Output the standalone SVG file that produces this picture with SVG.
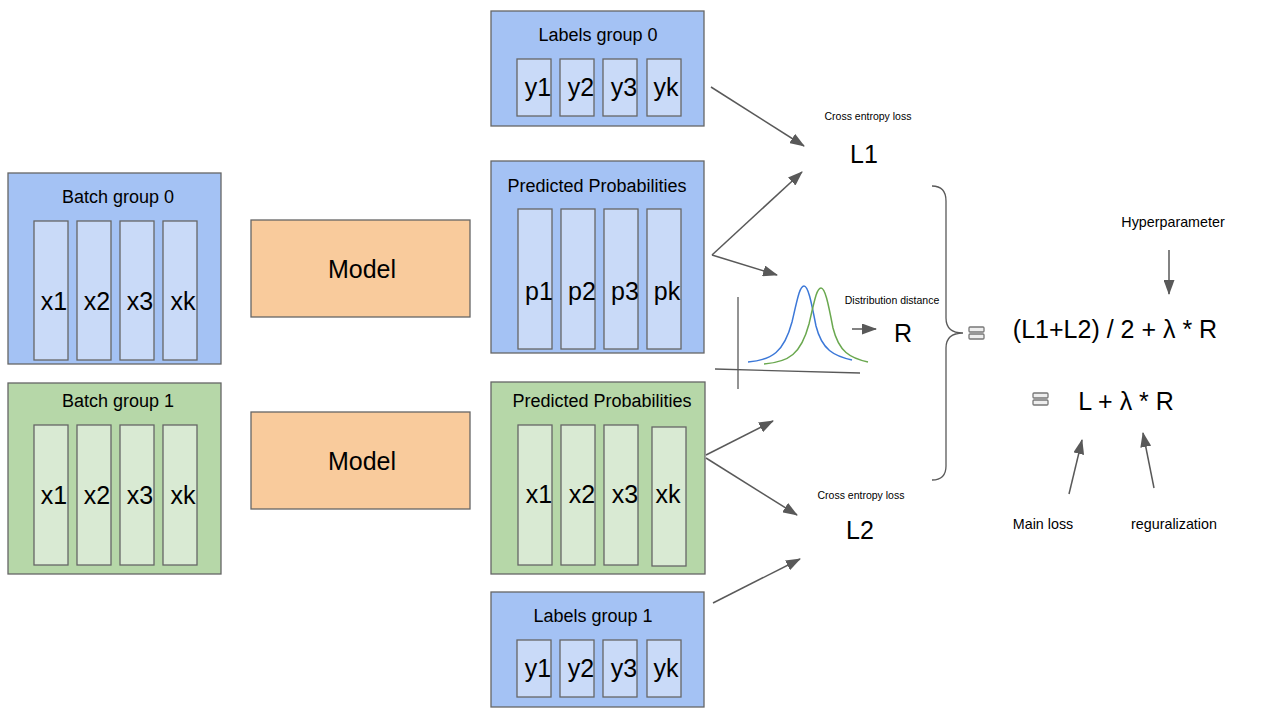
<svg xmlns="http://www.w3.org/2000/svg" width="1280" height="719" viewBox="0 0 1280 719">
<style>
text{font-family:"Liberation Sans",Arial,sans-serif;fill:#000;text-anchor:middle}
.blue{fill:#a4c2f4;stroke:#666;stroke-width:1.3}
.cb{fill:#c9daf8;stroke:#666;stroke-width:1.3}
.green{fill:#b6d7a8;stroke:#666;stroke-width:1.3}
.cg{fill:#d9ead3;stroke:#666;stroke-width:1.3}
.model{fill:#f9cb9c;stroke:#666;stroke-width:1.3}
.t{font-size:18px}
.c{font-size:25px}
.m{font-size:25px}
.s{font-size:10.5px}
.n{font-size:14.3px}
.big{font-size:25px}
.arr{stroke:#595959;stroke-width:1.5;fill:none;marker-end:url(#ah)}
.ax{stroke:#595959;stroke-width:1.3;fill:none}
.eq{fill:#eeeeee;stroke:#777;stroke-width:1.3}
</style>
<defs>
<marker id="ah" markerUnits="userSpaceOnUse" markerWidth="15" markerHeight="11" refX="14" refY="5.5" orient="auto">
<path d="M0,0 L15,5.5 L0,11 z" fill="#595959"/>
</marker>
</defs>
<rect width="1280" height="719" fill="#fff"/>

<g id="batch0">
<rect class="blue" x="8" y="173" width="213" height="191"/>
<text class="t" x="118" y="203">Batch group 0</text>
<rect class="cb" x="34" y="221" width="34" height="139"/>
<rect class="cb" x="77" y="221" width="34" height="139"/>
<rect class="cb" x="120" y="221" width="34" height="139"/>
<rect class="cb" x="163" y="221" width="34" height="139"/>
<text class="c" x="54" y="310">x1</text>
<text class="c" x="97" y="310">x2</text>
<text class="c" x="140" y="310">x3</text>
<text class="c" x="183" y="310">xk</text>
</g>

<g id="batch1">
<rect class="green" x="8" y="383" width="213" height="191"/>
<text class="t" x="118" y="407">Batch group 1</text>
<rect class="cg" x="34" y="425" width="34" height="140"/>
<rect class="cg" x="77" y="425" width="34" height="140"/>
<rect class="cg" x="120" y="425" width="34" height="140"/>
<rect class="cg" x="163" y="425" width="34" height="140"/>
<text class="c" x="54" y="504">x1</text>
<text class="c" x="97" y="504">x2</text>
<text class="c" x="140" y="504">x3</text>
<text class="c" x="183" y="504">xk</text>
</g>

<g id="model0">
<rect class="model" x="251" y="220" width="219" height="97"/>
<text class="m" x="362" y="278">Model</text>
</g>
<g id="model1">
<rect class="model" x="251" y="412" width="219" height="97"/>
<text class="m" x="362" y="470">Model</text>
</g>

<g id="labels0">
<rect class="blue" x="491" y="11" width="213" height="115"/>
<text class="t" x="598" y="41">Labels group 0</text>
<rect class="cb" x="517" y="59" width="34" height="57"/>
<rect class="cb" x="560" y="59" width="34" height="57"/>
<rect class="cb" x="603" y="59" width="34" height="57"/>
<rect class="cb" x="647" y="59" width="34" height="57"/>
<text class="c" x="538" y="96">y1</text>
<text class="c" x="581" y="96">y2</text>
<text class="c" x="624" y="96">y3</text>
<text class="c" x="666" y="96">yk</text>
</g>

<g id="pred0">
<rect class="blue" x="491" y="161" width="213" height="192"/>
<text class="t" x="597" y="192">Predicted Probabilities</text>
<rect class="cb" x="518" y="209" width="34" height="140"/>
<rect class="cb" x="561" y="209" width="34" height="140"/>
<rect class="cb" x="604" y="209" width="34" height="140"/>
<rect class="cb" x="647" y="209" width="34" height="140"/>
<text class="c" x="539" y="300">p1</text>
<text class="c" x="582" y="300">p2</text>
<text class="c" x="625" y="300">p3</text>
<text class="c" x="667" y="300">pk</text>
</g>

<g id="pred1">
<rect class="green" x="491" y="382" width="214" height="192"/>
<text class="t" x="602" y="407">Predicted Probabilities</text>
<rect class="cg" x="518" y="425" width="34" height="140"/>
<rect class="cg" x="561" y="425" width="34" height="140"/>
<rect class="cg" x="604" y="425" width="34" height="140"/>
<rect class="cg" x="652" y="427" width="34" height="139"/>
<text class="c" x="539" y="503">x1</text>
<text class="c" x="582" y="503">x2</text>
<text class="c" x="625" y="503">x3</text>
<text class="c" x="668" y="503">xk</text>
</g>

<g id="labels1">
<rect class="blue" x="491" y="592" width="213" height="115"/>
<text class="t" x="593" y="622">Labels group 1</text>
<rect class="cb" x="517" y="640" width="34" height="57"/>
<rect class="cb" x="560" y="640" width="34" height="57"/>
<rect class="cb" x="603" y="640" width="34" height="57"/>
<rect class="cb" x="647" y="640" width="34" height="57"/>
<text class="c" x="538" y="677">y1</text>
<text class="c" x="581" y="677">y2</text>
<text class="c" x="624" y="677">y3</text>
<text class="c" x="666" y="677">yk</text>
</g>

<g id="L1">
<text class="s" x="868" y="120">Cross entropy loss</text>
<text class="m" x="864" y="163">L1</text>
</g>

<g id="dist">
<line class="ax" x1="738" y1="297" x2="738" y2="389"/>
<line class="ax" x1="715" y1="369" x2="860" y2="373"/>
<path d="M748,362 C772,360 784,352 792,322 C798,296 800,286 804,286 C808,286 811,300 816,326 C822,350 834,356 852,360" fill="none" stroke="#3c78d8" stroke-width="1.5"/>
<path d="M764,364 C789,362 801,354 809,324 C815,298 817,288 821,288 C825,288 828,302 833,328 C839,352 850,358 868,362" fill="none" stroke="#6aa84f" stroke-width="1.5"/>
<text class="s" x="892" y="304">Distribution distance</text>
</g>

<g id="R">
<text class="m" x="903" y="342">R</text>
</g>

<g id="L2">
<text class="s" x="861" y="499">Cross entropy loss</text>
<text class="m" x="860" y="539">L2</text>
</g>

<g id="brace">
<path d="M932,186 Q946,186 946,201 L946,318 Q946,333 963,333 Q946,333 946,348 L946,466 Q946,480 932,480" fill="none" stroke="#595959" stroke-width="1.3"/>
</g>

<g id="eq1">
<rect class="eq" x="969" y="327" width="15" height="5" rx="1"/>
<rect class="eq" x="969" y="334" width="15" height="5" rx="1"/>
</g>
<g id="formula1">
<text class="big" x="1115" y="338">(L1+L2) / 2 + λ * R</text>
</g>
<g id="eq2">
<rect class="eq" x="1033" y="393" width="15" height="5" rx="1"/>
<rect class="eq" x="1033" y="400" width="15" height="5" rx="1"/>
</g>
<g id="formula2">
<text class="big" x="1126" y="410">L + λ * R</text>
</g>

<g id="hyper">
<text class="n" x="1173" y="227">Hyperparameter</text>
</g>
<g id="mainloss">
<text class="n" x="1043" y="529">Main loss</text>
</g>
<g id="reg">
<text class="n" x="1174" y="529">reguralization</text>
</g>

<g id="connectors">
<line class="arr" x1="711" y1="87" x2="804" y2="146"/>
<line class="arr" x1="712" y1="255" x2="802" y2="172"/>
<line class="arr" x1="712" y1="255" x2="777" y2="275"/>
<line class="arr" x1="706" y1="455" x2="773" y2="421"/>
<line class="arr" x1="706" y1="458" x2="797" y2="515"/>
<line class="arr" x1="713" y1="603" x2="800" y2="559"/>
<line class="arr" x1="852" y1="329" x2="876" y2="329"/>
<line class="arr" x1="1169" y1="250" x2="1169" y2="294"/>
<line class="arr" x1="1069" y1="494" x2="1082" y2="440"/>
<line class="arr" x1="1154" y1="488" x2="1143" y2="433"/>
</g>
</svg>
